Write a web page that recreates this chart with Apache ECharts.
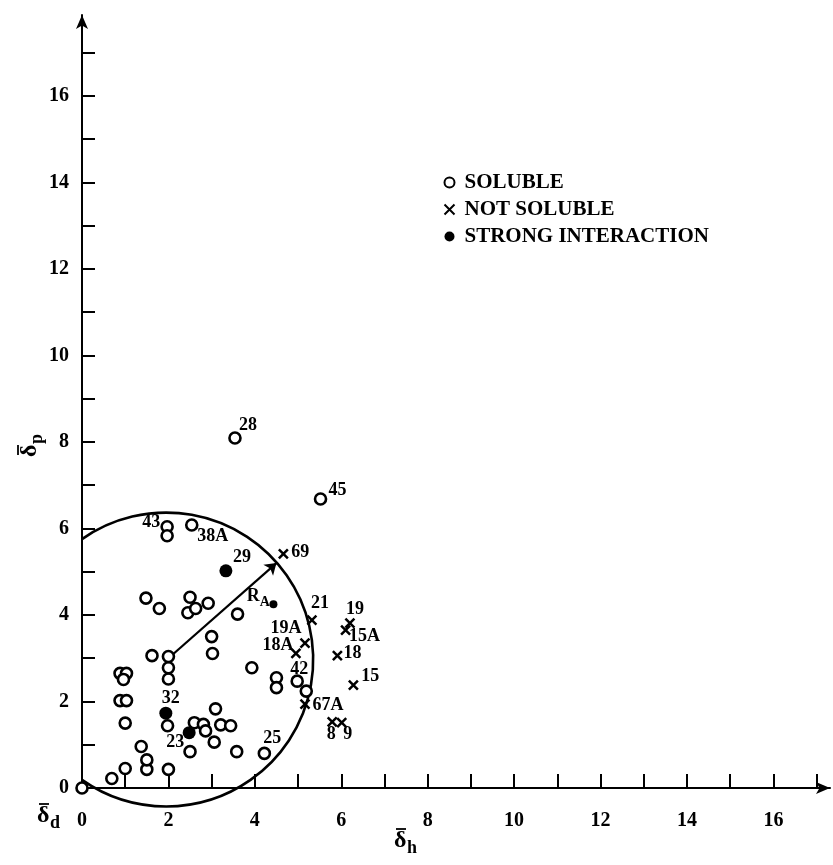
<!DOCTYPE html>
<html>
<head>
<meta charset="utf-8">
<script src="https://cdn.jsdelivr.net/npm/echarts@6/dist/echarts.min.js"></script>
<style>
  html, body { margin: 0; padding: 0; background: #fff; }
  #chart { width: 833px; height: 865px; }
</style>
</head>
<body>
<div id="chart"></div>
<script>
// Reduced solubility parameters: hydrogen-bonding (x) vs polar (y) component

// Soluble compounds
const solubleX = [0, 0.69, 1.0, 1.5, 1.5, 1.37, 2.0, 2.5, 3.58, 4.22, 3.06, 1.0, 1.98, 2.6, 2.81, 2.86,
  3.09, 3.21, 3.44, 0.88, 1.03, 0.88, 1.03, 0.96, 2.0, 2.0, 2.0, 1.62, 3.02, 3.0, 3.93, 4.5, 4.5, 4.98,
  5.19, 3.6, 2.92, 2.45, 2.63, 2.5, 1.79, 1.48, 1.97, 1.97, 2.54, 3.54, 5.52];
const solubleY = [0, 0.22, 0.45, 0.43, 0.65, 0.96, 0.43, 0.84, 0.84, 0.80, 1.06, 1.5, 1.44, 1.51, 1.47, 1.32,
  1.83, 1.46, 1.44, 2.02, 2.02, 2.65, 2.65, 2.51, 2.52, 2.78, 3.04, 3.06, 3.11, 3.5, 2.78, 2.55, 2.32, 2.47,
  2.24, 4.02, 4.27, 4.05, 4.15, 4.41, 4.15, 4.39, 6.04, 5.83, 6.08, 8.09, 6.68];
const solubleIds = ['', '', '', '', '', '', '', '', '', '25', '', '', '', '', '', '',
  '', '', '', '', '', '', '', '', '', '', '', '', '', '', '', '', '', '42',
  '', '', '', '', '', '', '', '', '43', '', '38A', '28', '45'];

// Compounds that did not dissolve
const insolubleIds = ['69', '21', '19', '15A', '19A', '18A', '18', '15', '67A', '8', '9'];
const insolubleX = [4.66, 5.32, 6.2, 6.1, 5.16, 4.95, 5.91, 6.28, 5.16, 5.79, 6.01];
const insolubleY = [5.41, 3.88, 3.81, 3.65, 3.35, 3.11, 3.06, 2.38, 1.94, 1.53, 1.51];

// Compounds showing strong interaction
const strongIds = ['29', '32', '23', 'RA'];
const strongX = [3.33, 1.94, 2.48, 4.43];
const strongY = [5.02, 1.73, 1.28, 4.25];

// Solubility boundary and its radius vector
const boundaryCenter = [1.95, 2.97];
const boundaryRadius = 3.4;
const radiusFrom = [2.0, 3.0];
const radiusTo = [4.5, 5.2];

// Axis ticks and labels
const xTicks = [0, 1, 2, 3, 4, 5, 6, 7, 8, 9, 10, 11, 12, 13, 14, 15, 16, 17];
const xLabels = [0, 2, 4, 6, 8, 10, 12, 14, 16];
const yTicks = [0, 1, 2, 3, 4, 5, 6, 7, 8, 9, 10, 11, 12, 13, 14, 15, 16, 17];
const yLabels = [0, 2, 4, 6, 8, 10, 12, 14, 16];

const seriesNames = ['SOLUBLE', 'NOT SOLUBLE', 'STRONG INTERACTION'];

// ---- styling ----
const INK = '#000';
const SERIF = '"Liberation Serif", "DejaVu Serif", serif';

// label offsets (px, from marker centre) for the numbered compounds
const labelOffsets = {
  '25': [8, -15], '42': [2, -12], '43': [-16, -4], '38A': [21, 11], '28': [13, -13], '45': [17, -9],
  '69': [17, -2], '21': [8, -17], '19': [5, -14], '15A': [19, 6], '19A': [-19, -15], '18A': [-18, -8],
  '18': [15, -2], '15': [17, -9], '67A': [23, 1], '8': [-1, 13], '9': [6, 12],
  '29': [16, -14], '32': [5, -15], '23': [-14, 10], 'RA': [-15, -6]
};
const markerSizes = { 'RA': 8 };

const labelBase = {
  position: 'inside', color: INK, fontFamily: SERIF, fontSize: 18, fontWeight: 'bold',
  rich: {
    r: { fontFamily: SERIF, fontSize: 18, fontWeight: 'bold', color: INK, padding: [0, 0, 4, 0] },
    s: { fontFamily: SERIF, fontSize: 14, fontWeight: 'bold', color: INK, padding: [8, 0, 0, 0] }
  }
};

function buildPoints(xs, ys, ids) {
  return xs.map((x, i) => {
    const id = ids[i];
    const item = { value: [x, ys[i]], name: id };
    if (markerSizes[id]) item.symbolSize = markerSizes[id];
    if (id) {
      item.label = Object.assign({}, labelBase, {
        show: true,
        offset: labelOffsets[id] || [12, -10],
        formatter: id === 'RA' ? '{r|R}{s|A}' : id
      });
    }
    return item;
  });
}

// δ with an overbar and a subscript letter, as a graphic group
function deltaSymbol(sub, x, y, rotation) {
  return {
    type: 'group', x: x, y: y, rotation: rotation || 0, silent: true,
    children: [
      { type: 'line', shape: { x1: 2, y1: 1, x2: 12, y2: 1 }, style: { stroke: INK, lineWidth: 1.8 } },
      { type: 'text', x: 0, y: 1, style: { text: 'δ', font: 'bold 24px ' + SERIF, fill: INK } },
      { type: 'text', x: 13, y: 11, style: { text: sub, font: 'bold 18px ' + SERIF, fill: INK } }
    ]
  };
}

const axisText = { color: INK, fontFamily: SERIF, fontSize: 20, fontWeight: 'bold' };
const axisLineStyle = { color: INK, width: 2 };

const chart = echarts.init(document.getElementById('chart'), null, { renderer: 'canvas' });

chart.setOption({
  backgroundColor: '#fff',
  animation: false,
  grid: { left: 82, top: 15, width: 748, height: 773 },
  xAxis: {
    type: 'value', min: 0, max: 17.31,
    axisLine: { onZero: false, lineStyle: axisLineStyle, symbol: ['none', 'arrow'], symbolSize: [9, 14] },
    axisTick: { inside: true, length: 14, lineStyle: axisLineStyle, customValues: xTicks },
    axisLabel: Object.assign({ margin: 23, customValues: xLabels }, axisText),
    splitLine: { show: false }
  },
  yAxis: {
    type: 'value', min: 0, max: 17.87,
    axisLine: { onZero: false, lineStyle: axisLineStyle, symbol: ['none', 'arrow'], symbolSize: [9, 14] },
    axisTick: { inside: true, length: 13, lineStyle: axisLineStyle, customValues: yTicks },
    axisLabel: Object.assign({ margin: 13, customValues: yLabels }, axisText),
    splitLine: { show: false }
  },
  legend: {
    orient: 'vertical', left: 437, top: 167, itemWidth: 10, itemHeight: 10, itemGap: 6,
    data: seriesNames,
    textStyle: { color: INK, fontFamily: SERIF, fontSize: 21, fontWeight: 'bold', padding: [0, 0, 0, 5] }
  },
  graphic: [
    deltaSymbol('h', 394, 828),
    deltaSymbol('d', 37, 803),
    deltaSymbol('p', 17, 457, Math.PI / 2)
  ],
  series: [
    { // solubility boundary, drawn to the right of the δp axis
      type: 'custom', silent: true, clip: false, z: 1,
      data: [boundaryCenter],
      renderItem(params, api) {
        const c = api.coord(boundaryCenter);
        const r = api.size([boundaryRadius, 0])[0];
        const x0 = api.coord([0, 0])[0];
        const a = Math.acos(Math.max(-1, Math.min(1, (x0 - c[0]) / r)));
        return {
          type: 'arc',
          shape: { cx: c[0], cy: c[1], r: r, startAngle: -a, endAngle: a, clockwise: true },
          style: { stroke: INK, fill: null, lineWidth: 2.6 }
        };
      }
    },
    { // radius vector
      type: 'lines', coordinateSystem: 'cartesian2d', silent: true, z: 2,
      symbol: ['none', 'arrow'], symbolSize: 11,
      lineStyle: { color: INK, width: 2.2, opacity: 1 },
      data: [{ coords: [radiusFrom, radiusTo] }]
    },
    {
      name: seriesNames[0], type: 'scatter', z: 3,
      symbol: 'circle', symbolSize: 11,
      itemStyle: { color: '#fff', borderColor: INK, borderWidth: 2.6, opacity: 1 },
      data: buildPoints(solubleX, solubleY, solubleIds)
    },
    {
      name: seriesNames[1], type: 'scatter', z: 3,
      symbol: 'path://M0,0L10,10M10,0L0,10', symbolSize: 9,
      itemStyle: { color: 'none', borderColor: INK, borderWidth: 2.5, opacity: 1 },
      data: buildPoints(insolubleX, insolubleY, insolubleIds)
    },
    {
      name: seriesNames[2], type: 'scatter', z: 3,
      symbol: 'circle', symbolSize: 13,
      itemStyle: { color: INK, opacity: 1 },
      data: buildPoints(strongX, strongY, strongIds)
    }
  ]
});
</script>
</body>
</html>
